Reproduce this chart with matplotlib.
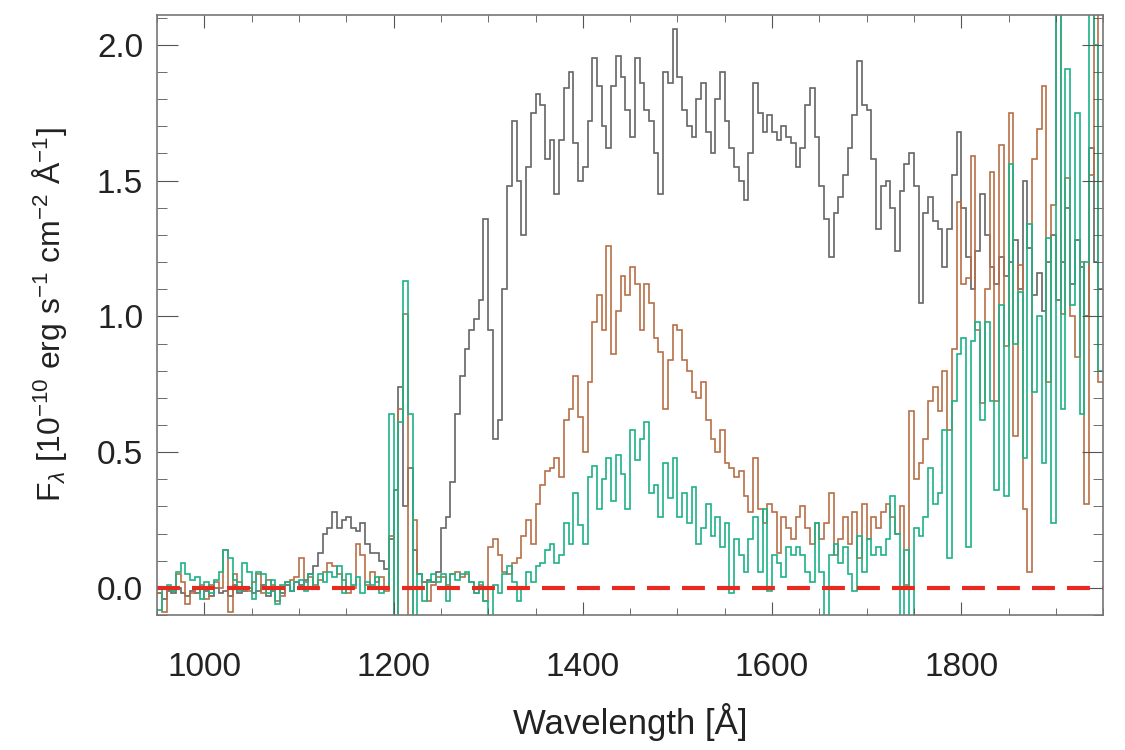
import numpy as np
import matplotlib
matplotlib.use("Agg")
import matplotlib.pyplot as plt

plt.rcParams['font.family'] = ['Liberation Sans', 'DejaVu Sans']
plt.rcParams['mathtext.fontset'] = 'custom'
plt.rcParams['mathtext.rm'] = 'Liberation Sans'
plt.rcParams['mathtext.it'] = 'Liberation Sans:italic'

# wavelength bins (Angstrom): left edge of first bin and bin width
wave_start = 950
wave_step = 5

# flux in 1e-10 erg/s/cm^2/A, one value per 5 A bin, rows of 50 A
flux_gray = [
    -0.02, -0.04, -0.01, -0.02, 0.00, -0.02, -0.03, -0.01, -0.02, 0.00,
    -0.01, -0.03, 0.00, -0.02, -0.01, -0.03, 0.01, -0.02, -0.01, 0.00,
    -0.02, -0.01, 0.01, -0.03, -0.01, 0.00, -0.02, 0.01, -0.01, 0.02,
    0.01, 0.03, 0.05, 0.08, 0.13, 0.20, 0.22, 0.28, 0.22, 0.25,
    0.26, 0.22, 0.21, 0.24, 0.16, 0.13, 0.13, 0.10, 0.07, 0.18,
    0.36, 0.74, 0.30, 0.44, 0.14, 0.05, 0.02, 0.03, 0.02, 0.06,
    0.22, 0.26, 0.39, 0.64, 0.78, 0.88, 0.95, 0.99, 1.06, 1.36,
    0.95, 0.55, 0.62, 1.10, 1.48, 1.72, 1.50, 1.30, 1.55, 1.75,
    1.82, 1.78, 1.58, 1.65, 1.45, 1.65, 1.84, 1.90, 1.64, 1.50,
    1.55, 1.72, 1.95, 1.85, 1.70, 1.62, 1.85, 1.96, 1.88, 1.76,
    1.66, 1.95, 1.86, 1.76, 1.72, 1.60, 1.45, 1.90, 1.86, 2.06,
    1.88, 1.76, 1.70, 1.66, 1.80, 1.86, 1.68, 1.60, 1.80, 1.90,
    1.72, 1.62, 1.55, 1.50, 1.43, 1.60, 1.86, 1.75, 1.68, 1.74,
    1.68, 1.65, 1.70, 1.66, 1.64, 1.55, 1.62, 1.78, 1.84, 1.66,
    1.48, 1.36, 1.22, 1.38, 1.44, 1.52, 1.62, 1.74, 1.94, 1.78,
    1.76, 1.58, 1.32, 1.48, 1.50, 1.40, 1.24, 1.46, 1.56, 1.60,
    1.48, 1.05, 1.38, 1.44, 1.35, 1.32, 1.18, 1.32, 1.52, 1.68,
    1.40, 1.22, 1.10, 1.24, 1.45, 1.30, 1.18, 1.12, 1.22, 1.15,
    1.20, 1.28, 1.10, 1.50, 1.25, 1.08, 1.16, 1.02, 1.20, 1.30,
    1.06, 1.20, 1.40, 1.12, 1.28, 1.18, 1.00, 1.62, 1.20, 1.10,
]

flux_brown = [
    -0.02, -0.09, 0.00, -0.01, 0.05, 0.02, -0.06, -0.02, 0.00, 0.01,
    -0.04, 0.01, 0.02, 0.00, 0.14, -0.09, 0.05, 0.02, 0.00, -0.01,
    0.02, 0.05, -0.02, 0.03, 0.01, -0.05, -0.03, 0.02, 0.03, 0.04,
    0.11, 0.02, 0.04, 0.01, 0.03, 0.06, 0.09, 0.08, 0.05, 0.03,
    -0.02, 0.00, 0.16, 0.12, 0.01, 0.06, 0.02, 0.04, -0.01, 0.19,
    -0.12, 0.66, 1.01, -0.12, 0.25, 0.05, 0.02, -0.05, 0.01, 0.04,
    0.04, 0.01, 0.05, 0.06, 0.04, 0.05, 0.02, -0.02, 0.01, -0.05,
    0.15, 0.18, 0.12, 0.06, 0.05, 0.09, 0.11, 0.19, 0.25, 0.16,
    0.31, 0.38, 0.43, 0.44, 0.48, 0.41, 0.62, 0.66, 0.78, 0.63,
    0.50, 0.76, 0.98, 1.08, 0.95, 1.26, 0.86, 1.02, 1.15, 1.08,
    1.18, 1.12, 0.95, 1.12, 1.05, 0.92, 0.87, 0.66, 0.84, 0.97,
    0.95, 0.84, 0.80, 0.72, 0.70, 0.76, 0.62, 0.55, 0.50, 0.58,
    0.46, 0.44, 0.41, 0.43, 0.34, 0.28, 0.48, 0.29, 0.24, 0.31,
    0.28, 0.13, 0.26, 0.22, 0.18, 0.26, 0.30, 0.22, 0.16, 0.24,
    0.18, 0.24, 0.35, 0.12, 0.18, 0.26, 0.16, 0.28, 0.11, 0.31,
    0.18, 0.26, 0.22, 0.28, 0.31, 0.26, 0.20, 0.30, 0.01, 0.65,
    0.40, 0.46, 0.55, 0.69, 0.74, 0.65, 0.80, 0.58, 0.88, 1.42,
    1.12, 1.14, 1.59, 0.95, 0.68, 1.10, 1.53, 0.69, 1.63, 0.89,
    1.75, 0.56, 1.19, 0.29, 0.06, 1.58, 1.69, 1.85, 0.76, 1.41,
    2.30, 1.01, 1.51, 1.00, 0.85, 1.20, 0.31, 1.52, 2.30, 0.76,
]

flux_green = [
    -0.08, 0.00, 0.01, -0.01, 0.06, 0.09, 0.05, 0.03, 0.04, -0.04,
    0.02, -0.02, 0.03, 0.06, 0.14, 0.11, 0.03, -0.01, 0.09, 0.06,
    -0.04, 0.06, 0.05, -0.02, 0.03, -0.06, 0.01, 0.02, -0.01, 0.02,
    0.03, -0.01, 0.05, 0.00, 0.05, 0.02, 0.06, 0.04, 0.08, -0.02,
    0.05, 0.01, 0.04, -0.02, 0.02, 0.01, 0.04, -0.02, 0.00, 0.64,
    -0.12, 0.61, 1.13, 0.64, -0.12, 0.05, -0.05, 0.02, 0.05, 0.02,
    0.05, -0.05, 0.05, 0.03, 0.05, 0.06, 0.02, -0.02, 0.02, -0.05,
    -0.11, 0.01, -0.02, 0.05, 0.08, 0.02, -0.05, 0.00, 0.06, 0.02,
    0.08, 0.09, 0.14, 0.16, 0.09, 0.12, 0.24, 0.16, 0.35, 0.23,
    0.16, 0.41, 0.45, 0.29, 0.40, 0.48, 0.32, 0.49, 0.42, 0.29,
    0.58, 0.47, 0.55, 0.61, 0.35, 0.38, 0.26, 0.46, 0.33, 0.48,
    0.26, 0.35, 0.24, 0.37, 0.16, 0.22, 0.31, 0.19, 0.26, 0.15,
    0.24, -0.02, 0.18, 0.12, 0.06, 0.18, 0.26, 0.06, 0.29, -0.01,
    0.12, 0.09, 0.04, 0.15, 0.12, 0.15, 0.12, 0.06, 0.02, 0.24,
    0.06, -0.11, 0.12, 0.16, 0.09, 0.15, 0.05, -0.01, 0.19, 0.06,
    0.18, 0.12, 0.15, 0.12, 0.18, 0.34, 0.20, -0.11, 0.14, -0.11,
    0.22, 0.19, 0.26, 0.44, 0.31, 0.35, 0.58, 0.11, 0.69, 0.86,
    0.92, 0.15, 0.91, 0.98, 0.62, 0.98, 0.69, 0.36, 1.04, 0.34,
    1.56, 0.90, 1.09, 0.48, 1.34, 0.72, 1.00, 0.46, 1.29, 0.24,
    2.30, 0.66, 1.91, 1.04, 1.75, 0.64, 1.20, 2.30, 2.00, 0.80,
]

zero_level = 0.0

edges = wave_start + wave_step * np.arange(len(flux_gray) + 1)

fig = plt.figure(figsize=(11.25, 7.5), dpi=100)
ax = fig.add_axes([0.1396, 0.18, 0.841, 0.80])

ax.stairs(flux_gray, edges, baseline=None, color='#656565', lw=1.2)
ax.stairs(flux_brown, edges, baseline=None, color='#b86f48', lw=1.2)
ax.stairs(flux_green, edges, baseline=None, color='#1db386', lw=1.2)
ax.plot([edges[0], edges[-1]], [zero_level, zero_level], color='#e8291f',
        lw=3, linestyle=(0, (5.5, 2.9)))

ax.set_xlim(950, 1950)
ax.set_ylim(-0.1, 2.11)
ax.set_xticks([1000, 1200, 1400, 1600, 1800])
ax.set_xticks(np.arange(950, 1951, 50), minor=True)
ax.set_yticks([0.0, 0.5, 1.0, 1.5, 2.0])
ax.set_yticks(np.arange(-0.1, 2.11, 0.1), minor=True)
ax.set_yticklabels(['0.0', '0.5', '1.0', '1.5', '2.0'])

ax.tick_params(which='both', direction='in', top=True, right=True,
               colors='#555555', labelcolor='#222222', labelsize=24)
ax.tick_params(axis='x', which='major', length=9.5, pad=27)
ax.tick_params(axis='x', which='minor', length=4.7)
ax.tick_params(axis='y', which='major', length=15, pad=10)
ax.tick_params(axis='y', which='minor', length=7.5)
for sp in ax.spines.values():
    sp.set_color('#777777')
    sp.set_linewidth(1.2)

ax.set_xlabel('Wavelength [Å]', fontsize=25, color='#222222', labelpad=14)
ax.set_ylabel(r'F$_\lambda$ [10$^{-10}$ erg s$^{-1}$ cm$^{-2}$ Å$^{-1}$]',
              fontsize=23, color='#222222', labelpad=20)

fig.savefig('out.png', dpi=100)
